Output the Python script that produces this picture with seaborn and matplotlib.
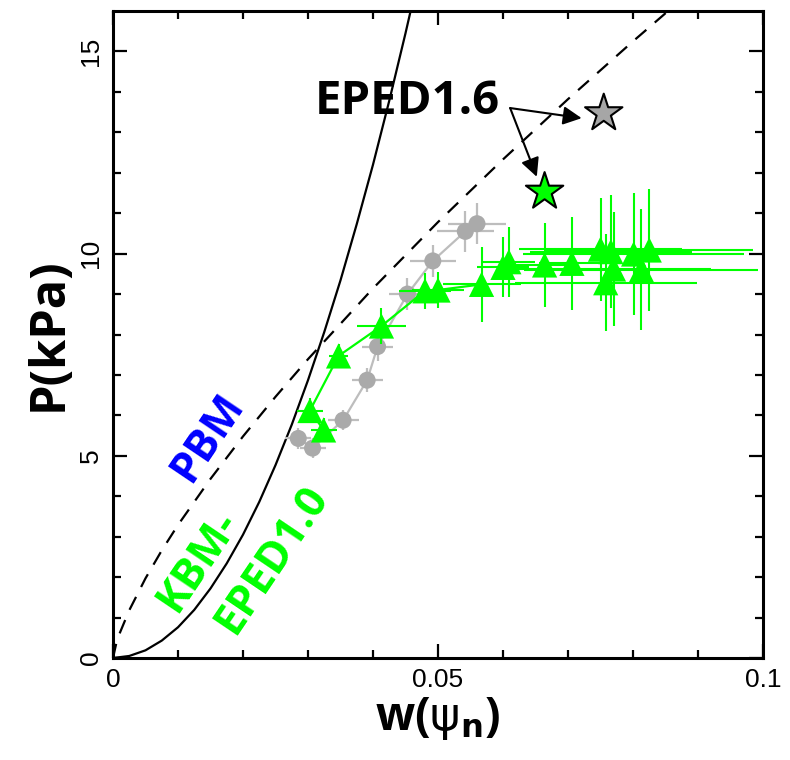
import numpy as np
import pandas as pd
import matplotlib
matplotlib.use("Agg")
import matplotlib.pyplot as plt
import seaborn as sns

# ---------------- data ----------------
# KBM-EPED1.0 constraint (solid)
kbm_w = [0.0, 0.0025, 0.005, 0.0075, 0.010, 0.0125, 0.015, 0.0175, 0.020, 0.0225,
         0.025, 0.0275, 0.030, 0.0325, 0.035, 0.0375, 0.040, 0.0425, 0.045, 0.0465]
kbm_p = [0.0, 0.05, 0.19, 0.43, 0.76, 1.19, 1.72, 2.34, 3.05, 3.86,
         4.77, 5.77, 6.87, 8.06, 9.34, 10.73, 12.2, 13.78, 15.45, 16.5]
# PBM boundary (dashed)
pbm_w = [0.0, 0.0005, 0.001, 0.0025, 0.005, 0.0075, 0.010, 0.015, 0.020, 0.025,
         0.030, 0.040, 0.050, 0.060, 0.070, 0.080, 0.0854, 0.090]
pbm_p = [0.0, 0.36, 0.60, 1.18, 1.97, 2.66, 3.29, 4.43, 5.48, 6.46,
         7.39, 9.14, 10.78, 12.33, 13.82, 15.25, 16.0, 16.6]

# grey circles (connected)
grey_w = [0.0285, 0.0307, 0.0354, 0.0391, 0.0407, 0.0453, 0.0492, 0.0542, 0.0560]
grey_p = [5.43, 5.19, 5.88, 6.87, 7.70, 9.00, 9.82, 10.55, 10.74]
grey_werr = [0.0020, 0.0020, 0.0024, 0.0024, 0.0024, 0.0028, 0.0035, 0.0044, 0.0044]
grey_perr = [0.25, 0.25, 0.25, 0.30, 0.35, 0.40, 0.40, 0.50, 0.50]

# green triangles, connected sequence
gl_w = [0.0324, 0.0303, 0.0347, 0.0413, 0.0480, 0.0500, 0.0567]
gl_p = [5.64, 6.12, 7.47, 8.21, 9.08, 9.10, 9.24]
gl_werr = [0.0020, 0.0020, 0.0015, 0.0037, 0.0040, 0.0040, 0.0060]
gl_perr = [0.30, 0.30, 0.30, 0.45, 0.45, 0.45, 0.93]

# green triangles, scattered
gs_w = [0.0600, 0.0609, 0.0664, 0.0706, 0.0750, 0.0766, 0.0758, 0.0770, 0.0801, 0.0825, 0.0813]
gs_p = [9.66, 9.80, 9.72, 9.76, 10.11, 10.05, 9.28, 9.62, 9.99, 10.09, 9.60]
gs_werr = [0.0040, 0.0040, 0.0050, 0.0050, 0.0125, 0.0125, 0.0140, 0.0150, 0.0170, 0.0160, 0.0180]
gs_perr = [0.74, 0.87, 1.03, 1.15, 1.27, 1.40, 1.20, 1.40, 1.50, 1.50, 1.50]

# EPED1.6 predictions (stars)
star_w = [0.0755, 0.0664]
star_p = [13.47, 11.53]
star_colors = ["#a6a6a6", "#00ff00"]

x_ticks = [0, 0.05, 0.1]
x_ticklabels = ["0", "0.05", "0.1"]
y_ticks = [0, 5, 10, 15]
y_ticklabels = ["0", "5", "10", "15"]

GREEN = "#00ff00"
GREY_PT = "#aaaaaa"
GREY_BAR = "#bdbdbd"
BOLD_FONT = ["Open Sans", "DejaVu Sans"]

# ---------------- figure ----------------
sns.set_theme(style="ticks")
plt.rcParams["font.family"] = ["Liberation Sans", "DejaVu Sans"]
plt.rcParams["text.color"] = "black"
plt.rcParams["axes.labelcolor"] = "black"

fig = plt.figure(figsize=(7.9, 7.6), dpi=100)
ax = fig.add_axes([113 / 790, 1 - 658 / 760, 650 / 790, 647 / 760])

# model curves
sns.lineplot(x=kbm_w, y=kbm_p, sort=False, ax=ax, color="black", lw=1.6)
sns.lineplot(x=pbm_w, y=pbm_p, sort=False, ax=ax, color="black", lw=1.6,
             dashes=False, linestyle=(0, (6.5, 5)))

# grey data
ax.errorbar(grey_w, grey_p, xerr=grey_werr, yerr=grey_perr, fmt="none",
            ecolor=GREY_BAR, elinewidth=1.6, capsize=0, zorder=2)
sns.lineplot(x=grey_w, y=grey_p, sort=False, ax=ax, color=GREY_BAR, lw=1.6, zorder=3)
sns.scatterplot(x=grey_w, y=grey_p, ax=ax, color=GREY_PT, s=150, marker="o",
                edgecolor="none", zorder=4)

# green data
ax.errorbar(gs_w, gs_p, xerr=gs_werr, yerr=gs_perr, fmt="none",
            ecolor=GREEN, elinewidth=1.5, capsize=0, zorder=5)
ax.errorbar(gl_w, gl_p, xerr=gl_werr, yerr=gl_perr, fmt="none",
            ecolor=GREEN, elinewidth=1.5, capsize=0, zorder=5)
sns.lineplot(x=gl_w, y=gl_p, sort=False, ax=ax, color=GREEN, lw=1.6, zorder=6)
sns.scatterplot(x=gl_w + gs_w, y=gl_p + gs_p, ax=ax, color=GREEN, s=330, marker="^",
                edgecolor="none", zorder=7)

# stars
sns.scatterplot(x=star_w, y=star_p, ax=ax, hue=[0, 1], palette=star_colors,
                s=800, marker="*", edgecolor="black", linewidth=1.5, legend=False, zorder=9)

# annotations
ax.text(0.0311, 13.77, "EPED1.6", fontsize=34, fontweight="bold",
        family=BOLD_FONT, color="black", ha="left", va="center", zorder=10)
arrow_kw = dict(arrowstyle="-|>", color="black", lw=1.5, mutation_scale=28,
                shrinkA=0, shrinkB=0)
ax.annotate("", xy=(0.0721, 13.35), xytext=(0.0611, 13.60), arrowprops=arrow_kw, zorder=10)
ax.annotate("", xy=(0.0652, 11.90), xytext=(0.0611, 13.60), arrowprops=arrow_kw, zorder=10)

ax.text(0.0146, 5.44, "PBM", fontsize=31, fontweight="bold", color="#0000ff",
        family=BOLD_FONT, rotation=56, ha="center", va="center",
        rotation_mode="anchor")
ax.text(0.0130, 2.40, "KBM-", fontsize=31, fontweight="bold", color=GREEN,
        family=BOLD_FONT, rotation=56, ha="center", va="center",
        rotation_mode="anchor")
ax.text(0.0244, 2.42, "EPED1.0", fontsize=31, fontweight="bold", color=GREEN,
        family=BOLD_FONT, rotation=56, ha="center", va="center",
        rotation_mode="anchor")

# axes styling
ax.set_xlim(0, 0.1)
ax.set_ylim(0, 16)
ax.set_xticks(x_ticks)
ax.set_xticklabels(x_ticklabels)
ax.set_yticks(y_ticks)
ax.set_yticklabels(y_ticklabels, rotation=90, va="center")
ax.set_xticks(np.arange(0.01, 0.1, 0.01), minor=True)
ax.set_yticks(np.arange(1, 16, 1), minor=True)
ax.tick_params(which="both", direction="in", top=True, right=True, colors="black",
               labelsize=19, width=1.6)
ax.tick_params(which="major", length=10, pad=7)
ax.tick_params(which="minor", length=6)
for s in ax.spines.values():
    s.set_linewidth(2.2)
    s.set_color("black")
ax.set_facecolor("white")
ax.grid(False)

ax.set_xlabel("w($\\mathrm{\\psi}_\\mathbf{n}$)", fontsize=33, fontweight="bold",
              family=BOLD_FONT, labelpad=2, color="black")
ax.set_ylabel("P(kPa)", fontsize=35, fontweight="bold",
              family=BOLD_FONT, labelpad=4, color="black")

fig.savefig("out.png", dpi=100, facecolor="white")
